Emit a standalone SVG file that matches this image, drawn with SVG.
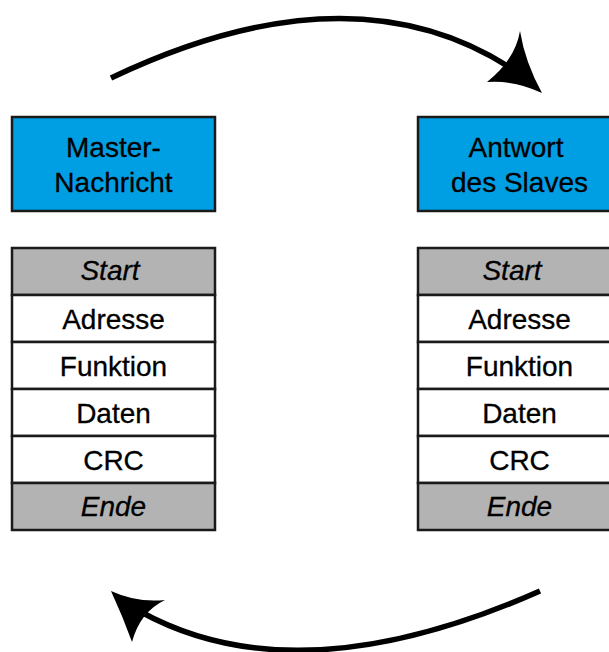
<svg xmlns="http://www.w3.org/2000/svg" width="609" height="652" viewBox="0 0 609 652">
<style>
.hdr{fill:#009FE3;stroke:#1a1a1a;stroke-width:2.5}
.cell{fill:#ffffff;stroke:#1a1a1a;stroke-width:2.5}
.gray{fill:#b3b3b3;stroke:#1a1a1a;stroke-width:2.5}
text{font-family:"Liberation Sans","DejaVu Sans",sans-serif;font-size:28px;fill:#000;text-anchor:middle;stroke:#000;stroke-width:0.3}
.it{font-style:italic}
.arc{fill:none;stroke:#000;stroke-width:5.5}
.head{fill:#000}
</style>
<g id="connectors">
<path class="arc" d="M111,78 Q352,-37 514,70"/>
<path class="head" d="M542,93 Q525,62 520,31 Q515,60 487,82 Q515,80 542,93 Z"/>
<path class="arc" d="M540,591 Q298,698 141,612"/>
<path class="head" d="M111,591 Q123,617 132,642 Q140,612 165,600 Q137,603 111,591 Z"/>
</g>
<g id="master-header">
<rect class="hdr" x="12" y="117" width="203" height="94"/>
<text x="113.5" y="157">Master-</text>
<text x="113.5" y="192">Nachricht</text>
</g>
<g id="master-frame">
<rect class="gray" x="12" y="248" width="203" height="47"/>
<text class="it" x="110" y="280">Start</text>
<rect class="cell" x="12" y="295" width="203" height="47"/>
<text x="113.5" y="329">Adresse</text>
<rect class="cell" x="12" y="342" width="203" height="47"/>
<text x="113.5" y="376">Funktion</text>
<rect class="cell" x="12" y="389" width="203" height="47"/>
<text x="113.5" y="423">Daten</text>
<rect class="cell" x="12" y="436" width="203" height="47"/>
<text x="113.5" y="470">CRC</text>
<rect class="gray" x="12" y="483" width="203" height="47"/>
<text class="it" x="113.5" y="516">Ende</text>
</g>
<g id="slave-header">
<rect class="hdr" x="418" y="117" width="203" height="94"/>
<text x="516" y="157">Antwort</text>
<text x="519.5" y="192">des Slaves</text>
</g>
<g id="slave-frame">
<rect class="gray" x="418" y="248" width="203" height="47"/>
<text class="it" x="512" y="280">Start</text>
<rect class="cell" x="418" y="295" width="203" height="47"/>
<text x="519.5" y="329">Adresse</text>
<rect class="cell" x="418" y="342" width="203" height="47"/>
<text x="519.5" y="376">Funktion</text>
<rect class="cell" x="418" y="389" width="203" height="47"/>
<text x="519.5" y="423">Daten</text>
<rect class="cell" x="418" y="436" width="203" height="47"/>
<text x="519.5" y="470">CRC</text>
<rect class="gray" x="418" y="483" width="203" height="47"/>
<text class="it" x="519.5" y="516">Ende</text>
</g>
</svg>
